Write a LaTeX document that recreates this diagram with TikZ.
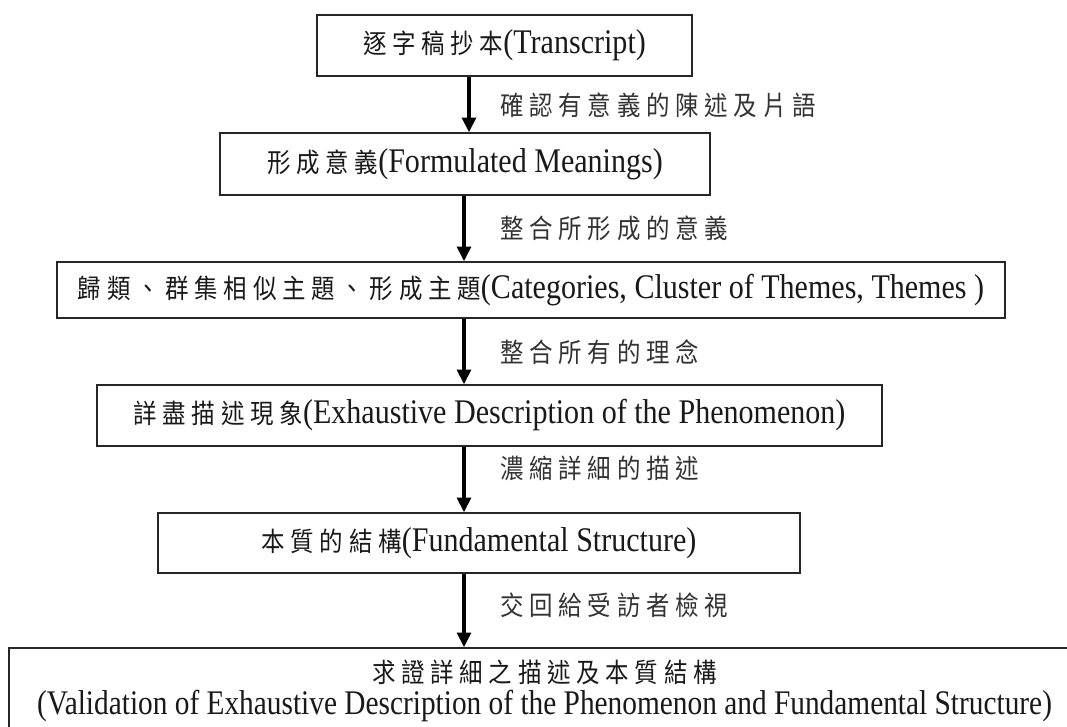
\documentclass[tikz,border=0pt]{standalone}
\usepackage{fontspec}
\setmainfont{Liberation Serif}[FakeStretch=0.87]
\newfontfamily\latnarrow{Liberation Serif}[FakeStretch=0.85]
\newfontfamily\cjk{Noto Sans CJK TC}[FakeStretch=0.88]
\usetikzlibrary{arrows.meta}
\newdimen\cjkgap \cjkgap=4.3pt
\newcommand\cjs[1]{{\cjk\fontsize{20}{22}\selectfont\cjsfirst#1\relax}}
\def\cjsfirst#1{#1\cjsi}
\def\cjsi#1{\ifx#1\relax\else\kern\cjkgap#1\expandafter\cjsi\fi}
\tikzset{
  stepbox/.style={draw=black!85, line width=1.2pt, inner sep=0pt, align=center,
    font=\fontsize{25.9}{25}\selectfont, text=black!90},
  lbl/.style={anchor=west, inner sep=0pt, text=black!80},
  arr/.style={line width=2.4pt, -{Triangle[width=10.5pt,length=11pt]}},
}
\begin{document}
\begin{tikzpicture}[x=0.75pt,y=-0.75pt]
\clip (0,0) rectangle (1067,727);
\fill[white] (0,0) rectangle (1067,727);
\node[stepbox, minimum width=375*0.75pt, minimum height=61*0.75pt] (b1) at (504.5,45.5)
  {\cjs{逐字稿抄本}(Transcript)};
\node[stepbox, minimum width=490*0.75pt, minimum height=62*0.75pt] (b2) at (465,164)
  {\cjs{形成意義}(Formulated Meanings)};
\node[stepbox, minimum width=948*0.75pt, minimum height=56*0.75pt] (b3) at (531,290)
  {\cjs{歸類、群集相似主題、形成主題}(Categories, Cluster of Themes, Themes )};
\node[stepbox, minimum width=785*0.75pt, minimum height=61*0.75pt] (b4) at (489.5,415.5)
  {\cjs{詳盡描述現象}(Exhaustive Description of the Phenomenon)};
\node[stepbox, minimum width=642*0.75pt, minimum height=60*0.75pt] (b5) at (479,543)
  {\cjs{本質的結構}(Fundamental Structure)};
\node[stepbox, minimum width=1071*0.75pt, minimum height=86*0.75pt] (b6) at (544.5,691)
  {\cjs{求證詳細之描述及本質結構}\\[-1pt]{\latnarrow(Validation of Exhaustive Description of the Phenomenon and Fundamental Structure)}};
\coordinate (x1) at (469,0);
\coordinate (x2) at (464,0);
\draw[arr] (b1.south -| x1) -- (b2.north -| x1);
\draw[arr] (b2.south -| x2) -- (b3.north -| x2);
\draw[arr] (b3.south -| x2) -- (b4.north -| x2);
\draw[arr] (b4.south -| x2) -- (b5.north -| x2);
\draw[arr] (b5.south -| x2) -- (b6.north -| x2);
\node[lbl] (l1) at (500,105) {\cjs{確認有意義的陳述及片語}};
\node[lbl] (l2) at (500,228) {\cjs{整合所形成的意義}};
\node[lbl] (l3) at (500,352) {\cjs{整合所有的理念}};
\node[lbl] (l4) at (500,468) {\cjs{濃縮詳細的描述}};
\node[lbl] (l5) at (500,605) {\cjs{交回給受訪者檢視}};
\end{tikzpicture}
\end{document}
